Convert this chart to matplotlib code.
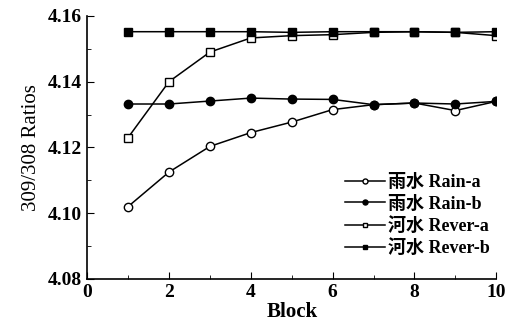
import numpy as np
import matplotlib
matplotlib.use("Agg")
import matplotlib.pyplot as plt
from matplotlib.ticker import MultipleLocator

plt.rcParams['font.family'] = ['Liberation Serif', 'Noto Sans CJK SC']

block = [1, 2, 3, 4, 5, 6, 7, 8, 9, 10]
rain_a = [4.102, 4.1125, 4.1203, 4.1245, 4.1277, 4.1315, 4.1330, 4.1335, 4.1312, 4.1340]
rain_b = [4.1332, 4.1332, 4.1341, 4.1350, 4.1347, 4.1346, 4.1330, 4.1335, 4.1332, 4.1340]
rever_a = [4.1230, 4.1400, 4.1490, 4.1533, 4.1540, 4.1543, 4.1550, 4.1552, 4.1550, 4.1540]
rever_b = [4.1552, 4.1552, 4.1552, 4.1552, 4.1550, 4.1552, 4.1552, 4.1552, 4.1550, 4.1552]
labels = ['雨水 Rain-a', '雨水 Rain-b', '河水 Rever-a', '河水 Rever-b']

fig = plt.figure(figsize=(5.10, 3.25), dpi=100)
ax = fig.add_axes([0.171, 0.142, 0.802, 0.809])

ax.plot(block, rain_a, '-o', color='black', mfc='white', ms=6, lw=1.1, label=labels[0])
ax.plot(block, rain_b, '-o', color='black', mfc='black', ms=6, lw=1.1, label=labels[1])
ax.plot(block, rever_a, '-s', color='black', mfc='white', ms=6, lw=1.1, label=labels[2])
ax.plot(block, rever_b, '-s', color='black', mfc='black', ms=6, lw=1.1, label=labels[3])

ax.set_xlim(0, 10)
ax.set_ylim(4.08, 4.16)
ax.xaxis.set_major_locator(MultipleLocator(2))
ax.xaxis.set_minor_locator(MultipleLocator(1))
ax.yaxis.set_major_locator(MultipleLocator(0.02))
ax.yaxis.set_minor_locator(MultipleLocator(0.01))
ax.yaxis.set_major_formatter(matplotlib.ticker.FormatStrFormatter('%.2f'))
ax.tick_params(which='both', direction='in', top=False, right=False)
ax.tick_params(which='major', length=5, labelsize=14)
ax.tick_params(which='minor', length=3)
for t in ax.get_xticklabels() + ax.get_yticklabels():
    t.set_fontweight('bold')
ax.spines['top'].set_visible(False)
ax.spines['right'].set_visible(False)
ax.spines['left'].set_linewidth(1.2)
ax.spines['bottom'].set_linewidth(1.2)

ax.set_xlabel('Block', fontsize=15, fontweight='bold', labelpad=1)
ax.set_ylabel('309/308 Ratios', fontsize=15, labelpad=5)

leg = ax.legend(loc='lower right', frameon=False, fontsize=13, markerscale=0.6,
                handlelength=2.2, handletextpad=0.2, labelspacing=0.25,
                bbox_to_anchor=(1.025, 0.02))
for t in leg.get_texts():
    t.set_fontweight('bold')

fig.savefig('out.png', dpi=100)
